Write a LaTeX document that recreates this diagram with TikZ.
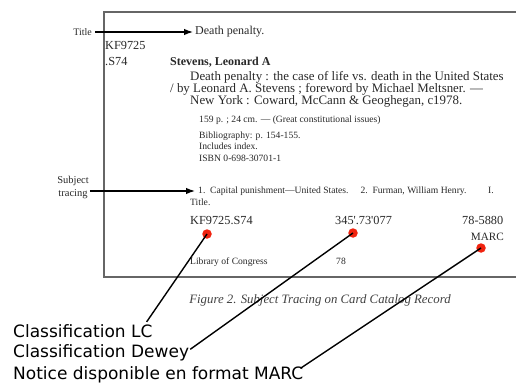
\documentclass[tikz,border=0pt]{standalone}
\usepackage{fontspec}
\setmainfont{Liberation Serif}
\newfontfamily\labfont{DejaVu Sans}
\usetikzlibrary{arrows.meta,calc}
\definecolor{dotred}{RGB}{240,35,15}
\definecolor{cardtxt}{RGB}{40,40,40}
\begin{document}
\begin{tikzpicture}[x=1pt,y=-1pt,
  txt/.style={inner sep=0pt,anchor=base west,text=cardtxt},
  big/.style={txt,font=\fontsize{12.3}{12.3}\selectfont},
  med/.style={txt,font=\fontsize{12.9}{12.9}\selectfont},
  sml/.style={txt,font=\fontsize{9.6}{9.6}\selectfont},
  arr/.style={line width=1.2pt,-{Latex[length=9pt,width=6.5pt]}},
  dot/.style={circle,fill=dotred,inner sep=0pt,minimum size=9.5pt},
  lab/.style={inner sep=0pt,anchor=base west,font=\labfont\fontsize{17}{17}\selectfont},
  callout/.style={line width=1.4pt,black}]
\useasboundingbox (0,0) rectangle (516,385);
% card frame
\draw[line width=1.4pt,black!60] (525,12) -- (104,12) -- (104,277) -- (525,277);
% headings
\node[txt,anchor=east,font=\fontsize{10}{10}\selectfont] (ttl) at (92,32) {Title};
\node[med,anchor=west,font=\fontsize{12}{12}\selectfont] (dp) at (195,32) {Death penalty.};
\draw[arr] ([xshift=3pt]ttl.east) -- ([xshift=-2pt]dp.west);
\node[big] (kf1) at (105,50) {KF9725};
\node[big] (kf2) at (105,66) {.S74};
\node[med,font=\bfseries\fontsize{12}{12}\selectfont] (auth) at (170,66) {Stevens, Leonard A};
\node[med] (l1) at (190,81) {Death penalty : the case of life vs. death in the United States};
\node[med] (l2) at (170,93) {/ by Leonard A. Stevens ; foreword by Michael Meltsner. ---};
\node[med] (l3) at (190,105) {New York : Coward, McCann \& Geoghegan, c1978.};
\node[sml] (n1) at (199,122) {159 p. ; 24 cm. --- (Great constitutional issues)};
\node[sml] (n2) at (199,138) {Bibliography: p. 154-155.};
\node[sml] (n3) at (199,149.5) {Includes index.};
\node[sml] (n4) at (199,161) {ISBN 0-698-30701-1};
% subject tracing
\node[txt,anchor=base,font=\fontsize{10.5}{10.5}\selectfont] (subj) at (73,183) {Subject};
\node[txt,anchor=base,font=\fontsize{10.5}{10.5}\selectfont] (trac) at (73,196) {tracing};
\node[sml,anchor=west] (st) at (198,191) {1.\enspace Capital punishment---United States.\quad\ 2.\enspace Furman, William Henry.\qquad\ I.};
\node[sml] (st2) at (190,205) {Title.};
\draw[arr] ([xshift=2pt]trac.east |- st.west) -- ([xshift=-3pt]st.west);
% call numbers
\node[big] (lc) at (190,224) {KF9725.S74};
\node[big] (dw) at (335,224) {345\textquotesingle.73\textquotesingle077};
\node[big] (cn) at (462,224) {78-5880};
\node[med,anchor=base east,font=\fontsize{11.2}{11.2}\selectfont] (marc) at (504,240) {MARC};
\node[sml] (loc) at (190,264) {Library of Congress};
\node[sml] (yr) at (336,264) {78};
% caption
\node[inner sep=0pt,anchor=base,text=black!75,font=\itshape\fontsize{12.8}{12.8}\selectfont] (cap) at (320,303) {Figure 2. Subject Tracing on Card Catalog Record};
% bottom labels
\node[lab] (tLC) at (13,337) {Classification LC};
\node[lab] (tDW) at (13,357) {Classification Dewey};
\node[lab] (tMA) at (13,379) {Notice disponible en format MARC};
% dots and callouts
\node[dot] (dLC) at (207,234) {};
\node[dot] (dDW) at (353,233) {};
\node[dot] (dMA) at (481,248) {};
\draw[callout] (dLC.center) -- ($(tLC.north east)+(-6,-2)$);
\draw[callout] (dDW.center) -- ($(tDW.east)+(1,-3)$);
\draw[callout] (dMA.center) -- ($(tMA.east)+(-3,-6)$);
\end{tikzpicture}
\end{document}
